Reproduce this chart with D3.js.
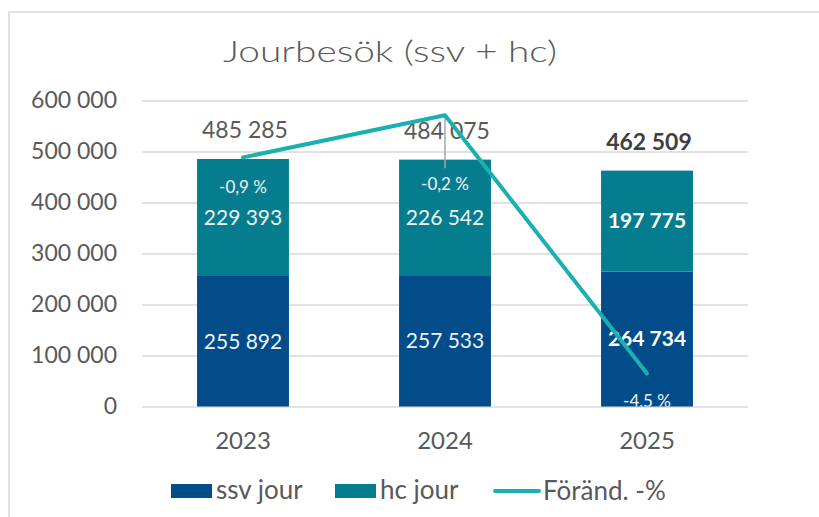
<!DOCTYPE html>
<html>
<head>
<meta charset="utf-8">
<script src="https://cdn.jsdelivr.net/npm/d3@7/dist/d3.min.js"></script>
<style>
  body { margin: 0; background: #fff; }
  svg text { font-family: Lato, 'Open Sans', sans-serif; }
</style>
</head>
<body>
<div id="chart"></div>
<script>
// Data
const years = ['2023', '2024', '2025'];
const ssvJour = [255892, 257533, 264734];
const hcJour = [229393, 226542, 197775];
const totals = [485285, 484075, 462509];
const changePct = [-0.93, -0.24, -4.46];
const yTicks = [0, 100000, 200000, 300000, 400000, 500000, 600000];

const W = 819, H = 517;
const plot = { left: 142, right: 748, top: 100.5, bottom: 406.5 };

const svg = d3.select('#chart').append('svg')
  .attr('width', W)
  .attr('height', H);

const sv = d3.formatLocale({ decimal: ',', thousands: ' ', grouping: [3], currency: ['', ''], minus: '-' });
const fmtNum = sv.format(',d');
const fmtPct = function(v) { return sv.format('.1f')(v) + ' %'; };

// chart border (only top and left visible)
svg.append('path')
  .attr('d', 'M9,' + (H + 5) + 'V12H' + (W + 5))
  .attr('fill', 'none')
  .attr('stroke', '#d9d9d9')
  .attr('stroke-width', 1.5);

// Title
svg.append('text')
  .attr('x', 390)
  .attr('y', 62)
  .attr('text-anchor', 'middle')
  .attr('font-size', '29px')
  .attr('font-weight', 300)
  .attr('fill', '#595959')
  .attr('textLength', 334)
  .attr('lengthAdjust', 'spacingAndGlyphs')
  .text('Jourbesök (ssv + hc)');

// Scales
const x = d3.scaleBand()
  .domain(years)
  .range([plot.left, plot.right])
  .paddingInner(0.545)
  .paddingOuter(0.2725);
const y = d3.scaleLinear().domain([0, 600000]).range([plot.bottom, plot.top]);
const y2 = d3.scaleLinear().domain([-5, 0]).range([plot.bottom, plot.top]);

// Y axis + gridlines
const yAxis = svg.append('g')
  .attr('transform', 'translate(' + plot.left + ',0)')
  .call(d3.axisLeft(y)
    .tickValues(yTicks)
    .tickSize(-(plot.right - plot.left))
    .tickPadding(25)
    .tickFormat(fmtNum));
yAxis.select('.domain').remove();
yAxis.selectAll('line').attr('stroke', '#d9d9d9').attr('stroke-width', 1.5);
yAxis.selectAll('text')
  .attr('fill', '#595959')
  .attr('font-size', '23px')
  .attr('font-family', 'Lato, sans-serif');

// X axis
const xAxis = svg.append('g')
  .attr('transform', 'translate(0,' + plot.bottom + ')')
  .call(d3.axisBottom(x).tickSize(0).tickPadding(25));
xAxis.select('.domain').remove();
xAxis.selectAll('text')
  .attr('fill', '#595959')
  .attr('font-size', '24px')
  .attr('font-family', 'Lato, sans-serif');

// Stacked bars
const rows = years.map(function(yr, i) {
  return { year: yr, ssv: ssvJour[i], hc: hcJour[i], total: totals[i], pct: changePct[i], i: i };
});
const stack = d3.stack().keys(['ssv', 'hc'])(rows);
const colors = { ssv: '#034c8a', hc: '#067d8f' };

const layers = svg.append('g').selectAll('g')
  .data(stack)
  .join('g')
  .attr('fill', function(d) { return colors[d.key]; });

layers.selectAll('rect')
  .data(function(d) { return d; })
  .join('rect')
  .attr('x', function(d) { return x(d.data.year); })
  .attr('width', x.bandwidth())
  .attr('y', function(d) { return y(d[1]); })
  .attr('height', function(d) { return y(d[0]) - y(d[1]); });

// Segment labels
stack.forEach(function(layer) {
  svg.append('g').selectAll('text')
    .data(layer)
    .join('text')
    .attr('x', function(d) { return x(d.data.year) + x.bandwidth() / 2; })
    .attr('y', function(d) { return (y(d[0]) + y(d[1])) / 2; })
    .attr('dy', '0.35em')
    .attr('text-anchor', 'middle')
    .attr('font-size', '21px')
    .attr('font-weight', function(d) { return d.data.i === years.length - 1 ? 'bold' : 'normal'; })
    .attr('fill', function(d) { return d.data.i === years.length - 1 ? '#ffffff' : '#eef3f5'; })
    .text(function(d) { return fmtNum(d[1] - d[0]); });
});

// Total labels
svg.append('g').selectAll('text')
  .data(rows)
  .join('text')
  .attr('x', function(d) { return x(d.year) + x.bandwidth() / 2 + 2; })
  .attr('y', function(d) { return y(d.total) - 21; })
  .attr('text-anchor', 'middle')
  .attr('font-size', '23px')
  .attr('font-weight', function(d) { return d.i === years.length - 1 ? 'bold' : 'normal'; })
  .attr('fill', function(d) { return d.i === years.length - 1 ? '#404040' : '#595959'; })
  .text(function(d) { return fmtNum(d.total); });

// Change line
const cx = function(d) { return x(d.year) + x.bandwidth() / 2; };
const pctShift = [30, 69, 28];

// leader line for the moved label
svg.append('line')
  .attr('x1', cx(rows[1]))
  .attr('x2', cx(rows[1]))
  .attr('y1', y2(rows[1].pct))
  .attr('y2', y2(rows[1].pct) + 53)
  .attr('stroke', '#a6a6a6')
  .attr('stroke-width', 1.5);

svg.append('path')
  .datum(rows)
  .attr('fill', 'none')
  .attr('stroke', '#1bb0b0')
  .attr('stroke-width', 4)
  .attr('stroke-linecap', 'round')
  .attr('stroke-linejoin', 'round')
  .attr('d', d3.line().x(cx).y(function(d) { return y2(d.pct); }));

// percent labels, clipped to the plot area
svg.append('clipPath').attr('id', 'plotClip')
  .append('rect')
  .attr('x', plot.left)
  .attr('y', plot.top)
  .attr('width', plot.right - plot.left)
  .attr('height', plot.bottom - plot.top);

svg.append('g')
  .attr('clip-path', 'url(#plotClip)')
  .selectAll('text')
  .data(rows)
  .join('text')
  .attr('x', cx)
  .attr('y', function(d) { return y2(d.pct) + pctShift[d.i]; })
  .attr('dy', '0.35em')
  .attr('text-anchor', 'middle')
  .attr('font-size', '17px')
  .attr('fill', '#f2f2f2')
  .text(function(d) { return fmtPct(d.pct); });

// Legend
const legend = svg.append('g').attr('font-size', '26px').attr('fill', '#595959');
legend.append('rect').attr('x', 171).attr('y', 484).attr('width', 41).attr('height', 14).attr('fill', colors.ssv);
legend.append('text').attr('x', 216).attr('y', 499).text('ssv jour');
legend.append('rect').attr('x', 335).attr('y', 484).attr('width', 41).attr('height', 14).attr('fill', colors.hc);
legend.append('text').attr('x', 380).attr('y', 499).text('hc jour');
legend.append('line').attr('x1', 495).attr('x2', 539).attr('y1', 491).attr('y2', 491)
  .attr('stroke', '#1bb0b0').attr('stroke-width', 4).attr('stroke-linecap', 'round');
legend.append('text').attr('x', 543).attr('y', 500).text('Föränd. -%');
</script>
</body>
</html>
